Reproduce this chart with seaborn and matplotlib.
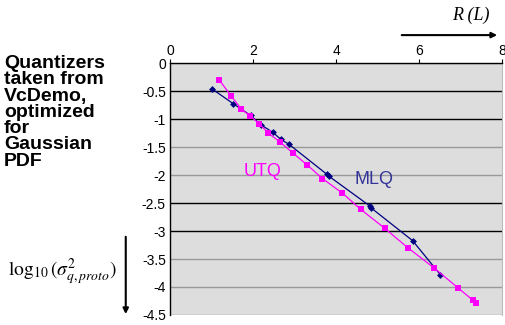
import pandas as pd
import seaborn as sns
import matplotlib.pyplot as plt

# rate R (bits) vs log10 of the quantization noise variance
mlq_rate = [1.0, 1.52, 1.94, 2.19, 2.47, 2.67, 2.87, 3.77, 3.83, 4.81, 4.85, 5.84, 6.51]
mlq_logvar = [-0.45, -0.72, -0.93, -1.10, -1.23, -1.36, -1.45, -1.98, -2.02, -2.55, -2.59, -3.17, -3.78]

utq_rate = [1.19, 1.48, 1.72, 1.93, 2.15, 2.37, 2.64, 2.97, 3.31, 3.67, 4.15, 4.59,
            5.17, 5.73, 6.36, 6.94, 7.30, 7.38]
utq_logvar = [-0.30, -0.59, -0.82, -0.94, -1.08, -1.25, -1.40, -1.61, -1.82, -2.06, -2.32, -2.61,
              -2.95, -3.30, -3.66, -4.02, -4.24, -4.29]

x_ticks = [0, 2, 4, 6, 8]
y_ticks = [0, -0.5, -1, -1.5, -2, -2.5, -3, -3.5, -4, -4.5]
y_tick_labels = ["0", "-0.5", "-1", "-1.5", "-2", "-2.5", "-3", "-3.5", "-4", "-4.5"]
dark_grid = [-0.5, -1, -2.5, -3]

mlq = pd.DataFrame({"R": mlq_rate, "logvar": mlq_logvar})
utq = pd.DataFrame({"R": utq_rate, "logvar": utq_logvar})

sns.set_style("white")
plt.rcParams["font.family"] = ["Liberation Sans", "DejaVu Sans"]
plt.rcParams["axes.unicode_minus"] = False
plt.rcParams["mathtext.fontset"] = "stix"
for key in ["text.color", "xtick.color", "ytick.color", "axes.labelcolor"]:
    plt.rcParams[key] = "black"

fig = plt.figure(figsize=(5.05, 3.25), dpi=100)
ax = fig.add_axes([0.3366, 0.031, 0.9945 - 0.3366, 0.805 - 0.031])
ax.set_facecolor("#dddddd")

sns.lineplot(data=mlq, x="R", y="logvar", sort=False, ax=ax, color="#000080",
             linewidth=0.9, marker="D", markersize=3.5, markeredgewidth=0)
sns.lineplot(data=utq, x="R", y="logvar", sort=False, ax=ax, color="#ff00ff",
             linewidth=0.9, marker="s", markersize=5, markeredgewidth=0)

ax.set_xlim(0, 8)
ax.set_ylim(-4.5, 0)
ax.set_xticks(x_ticks)
ax.set_yticks(y_ticks)
ax.set_yticklabels(y_tick_labels)
ax.xaxis.tick_top()
ax.tick_params(axis="x", direction="out", length=3, width=0.8, pad=1, labelsize=10)
ax.tick_params(axis="y", direction="out", length=2, width=0.8, pad=1, labelsize=10)
ax.set_xlabel("")
ax.set_ylabel("")

ax.grid(axis="y", color="#999999", linewidth=1.0)
ax.set_axisbelow(True)
for val, gl in zip(y_ticks, ax.get_ygridlines()):
    if val in dark_grid:
        gl.set_color("black")

for side in ["top", "left"]:
    ax.spines[side].set_color("black")
    ax.spines[side].set_linewidth(1.0)
ax.spines["right"].set_color("#bbbbbb")
ax.spines["bottom"].set_visible(False)

ax.text(2.24, -1.94, "UTQ", color="#ff00ff", fontsize=13, ha="center", va="center")
ax.text(4.91, -2.08, "MLQ", color="#333399", fontsize=13, ha="center", va="center")

fig.text(0.008, 0.83, "Quantizers\ntaken from\nVcDemo,\noptimized\nfor\nGaussian\nPDF",
         fontsize=14, fontweight="bold", ha="left", va="top", linespacing=0.94)

fig.text(0.123, 0.163, r"$\log_{10}(\sigma^2_{q,proto})$", fontsize=14,
         ha="center", va="center")
fig.text(0.932, 0.952, "R (L)", family=["Liberation Serif", "DejaVu Serif"],
         style="italic", fontsize=13, ha="center", va="center")

# arrows drawn in figure coordinates
ax.annotate("", xy=(0.249, 0.025), xytext=(0.249, 0.28), xycoords="figure fraction",
            arrowprops=dict(arrowstyle="-|>", color="black", lw=1.5, mutation_scale=8))
ax.annotate("", xy=(0.99, 0.892), xytext=(0.79, 0.892), xycoords="figure fraction",
            arrowprops=dict(arrowstyle="-|>", color="black", lw=1.5, mutation_scale=8))

fig.savefig("out.png", dpi=100)
